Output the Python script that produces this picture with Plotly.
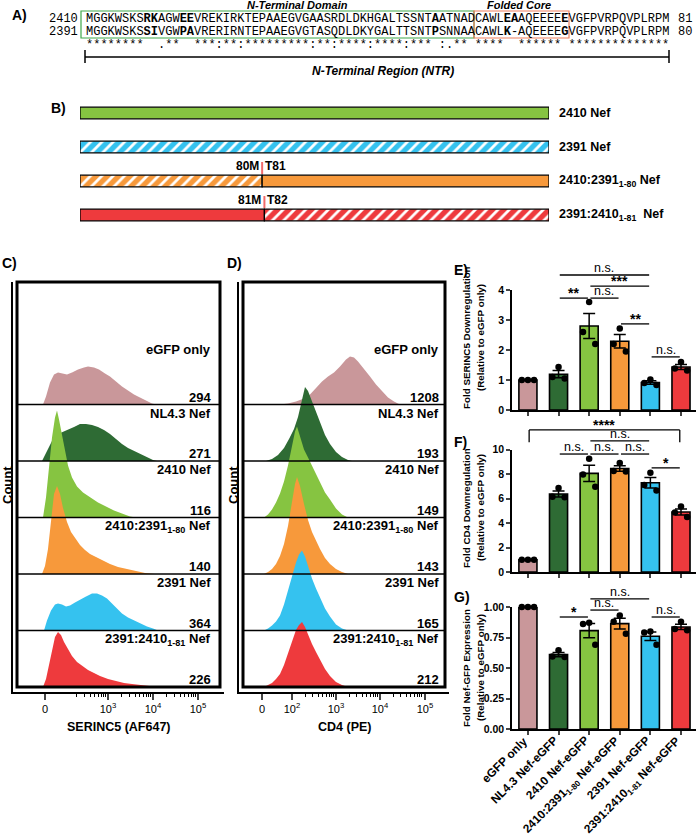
import numpy as np
import plotly.graph_objects as go

W, H = 696, 835
def PX(x): return x / W
def PY(y): return 1 - y / H
def to_paper(dom, rng, v): return dom[0] + (v - rng[0]) / (rng[1] - rng[0]) * (dom[1] - dom[0])

SANS = "Liberation Sans"
MONO = "Liberation Mono"

# ---------------- Panel A data ----------------
seq_names = ["2410", "2391"]
seq_lengths = ["81", "80"]
seq_2410 = ("MGGKWSKS<b>RK</b>AGW<b>EE</b>VREKIRKTEPAAEGVGAASRDLDKHGALTSSNT<b>A</b>"
            "ATNADCAWL<b>EA</b>AQEEEE<b>E</b>VGFPVRPQVPLRPM")
seq_2391 = ("MGGKWSKS<b>SI</b>VGW<b>PA</b>VRERIRNTEPAAEGVGTASQDLDKYGALTTSNT<b>P</b>"
            "SNNAACAWL<b>K</b>-AQEEEE<b>G</b>VGFPVRPQVPLRPM")
conservation = ("********  .**  ***:**:*********:**:****:****:*** :.** "
                "****  ****** **************")

# ---------------- Panel B data ----------------
construct_names = ["2410 Nef", "2391 Nef", "2410:2391<sub>1-80</sub> Nef", "2391:2410<sub>1-81</sub>  Nef"]
construct_colors = ["#86C441", "#35C2EF", "#F7993B", "#EE3A3D"]
segment_edges = [[0, 206], [0, 206], [0, 80, 206], [0, 81, 206]]
segment_hatched = [[False], [True], [True, False], [False, True]]
junction_left = [None, None, "80M", "81M"]
junction_right = [None, None, "T81", "T82"]

# ---------------- Panels C / D data (display channels, counts) ----------------
hist_labels = ["eGFP only", "NL4.3 Nef", "2410 Nef", "2410:2391<sub>1-80</sub> Nef",
               "2391 Nef", "2391:2410<sub>1-81</sub> Nef"]
hist_colors = ["#C9979A", "#2E6B34", "#86C441", "#F7993B", "#35C2EF", "#EE3A3D"]
serinc5_mfi = ["294", "271", "116", "140", "364", "226"]
cd4_mfi = ["1208", "193", "149", "143", "165", "212"]

serinc5_x = [
    [26,29,33,37,41,45,50,55,61,67,71,77,82,88,93,99,105,111,117,123,129,135,139],
    [25,28,32,36,41,46,51,57,63,69,75,81,87,93,99,105,111,117,123,129,136,140],
    [26,29,32,35,38,40,42,45,48,51,55,60,66,73,81,89,97,105,113,119],
    [25,28,31,34,37,40,43,46,50,54,59,63,68,73,79,85,93,101,109,118,128,138],
    [27,30,34,38,41,45,49,53,58,63,69,75,80,85,90,95,100,105,111,117,123,130,136,141],
    [26,29,32,35,38,41,44,47,51,55,60,65,71,77,83,91,99,107,115,123,133,141],
]
serinc5_counts = [
    [0,8,22,30,32,31,30,32,35,37,38,37,35,31,28,23,18,14,10,7,4,1,0],
    [0,6,14,22,27,29,31,34,37,37,36,34,31,27,22,17,13,10,7,4,1,0],
    [0,20,50,80,100,107,98,82,66,52,40,31,25,20,15,11,7,4,1,0],
    [0,8,25,55,80,88,80,66,52,42,34,29,24,20,17,14,10,7,5,3,1,0],
    [0,10,20,26,27,26,24,25,28,31,34,37,37,35,32,27,22,17,13,10,7,4,2,0],
    [0,8,22,38,50,55,52,45,38,31,25,21,17,14,11,8,6,4,3,2,1,0],
]
cd4_x = [
    [37,45,53,61,67,73,79,85,91,97,103,107,111,115,121,127,133,139,145,151,157],
    [23,29,35,41,46,51,55,59,62,65,69,73,77,82,87,93,99,105,109],
    [21,25,29,33,37,41,45,49,52,54,57,61,65,69,73,77,82,87,93,99,105],
    [21,25,29,33,37,41,45,49,52,54,57,61,65,69,73,77,82,87,93,99,105],
    [21,25,29,33,37,41,45,49,53,56,59,62,65,69,73,77,82,87,93,99,105],
    [21,25,29,33,37,41,45,49,53,56,59,62,65,69,73,77,82,87,93,99,105],
]
cd4_counts = [
    [0,1,3,6,10,17,23,28,32,38,45,48,47,43,36,28,20,13,7,3,0],
    [0,2,6,13,22,32,44,60,74,70,60,48,38,26,17,9,4,1,0],
    [0,3,8,15,24,36,52,72,86,91,82,68,60,52,43,35,25,18,9,3,0],
    [0,2,5,10,18,30,48,72,90,97,88,70,54,42,33,25,16,10,5,2,0],
    [0,2,5,9,15,26,40,55,68,76,80,74,64,52,42,33,22,14,6,2,0],
    [0,2,4,8,13,22,34,46,57,62,65,60,52,43,35,27,18,11,5,2,0],
]
serinc5_tickvals = [28, 91, 136, 181]
serinc5_ticktext = ["0", "10<sup>3</sup>", "10<sup>4</sup>", "10<sup>5</sup>"]
cd4_tickvals = [19, 49, 93, 137, 182]
cd4_ticktext = ["0", "10<sup>2</sup>", "10<sup>3</sup>", "10<sup>4</sup>", "10<sup>5</sup>"]

# ---------------- Panels E / F / G data ----------------
groups = ["eGFP only", "NL4.3 Nef-eGFP", "2410 Nef-eGFP", "2410:2391<sub>1-80</sub> Nef-eGFP",
          "2391 Nef-eGFP", "2391:2410<sub>1-81</sub> Nef-eGFP"]
serinc5_pts = [[1, 1, 1], [1.43, 1.10, 1.05], [3.60, 2.60, 2.20], [2.72, 2.20, 1.95],
               [1.02, 0.90, 0.83], [1.60, 1.38, 1.32]]
cd4_pts = [[1, 1, 1], [6.85, 6.15, 6.10], [9.25, 7.95, 6.95], [8.90, 8.25, 8.20],
           [8.10, 7.10, 6.65], [5.35, 4.85, 4.50]]
nefgfp_pts = [[1, 1, 1], [0.645, 0.595, 0.59], [0.87, 0.86, 0.69], [0.93, 0.88, 0.78],
              [0.80, 0.79, 0.69], [0.88, 0.82, 0.81]]
sig_serinc5 = [(1, 4, 4.5, "n.s."), (2, 4, 4.13, "***"), (1, 2, 3.73, "**"),
               (2, 3, 3.73, "n.s."), (3, 4, 2.87, "**"), (4, 5, 1.77, "n.s.")]
sig_cd4 = [(0, 5, 11.6, "****"), (2, 4, 10.7, "n.s."), (1, 2, 9.63, "n.s."),
           (2, 3, 9.63, "n.s."), (3, 4, 9.63, "n.s."), (4, 5, 8.5, "*")]
sig_nefgfp = [(2, 4, 1.066, "n.s."), (1, 2, 0.918, "*"), (2, 3, 0.975, "n.s."),
              (4, 5, 0.918, "n.s.")]

# =====================================================================
fig = go.Figure()
shapes, annos = [], []

def ann(x, y, text, size=12, bold=True, xanchor="center", yanchor="middle",
        xref="paper", yref="paper", family=SANS, angle=0, italic=False, color="black", **kw):
    annos.append(dict(x=x, y=y, xref=xref, yref=yref, text=text, showarrow=False,
                      xanchor=xanchor, yanchor=yanchor, textangle=angle,
                      font=dict(family=family, size=size, color=color,
                                weight="bold" if bold else "normal",
                                style="italic" if italic else "normal"), **kw))

def pline(x0, y0, x1, y1, color="black", width=1.5, xref="paper", yref="paper"):
    shapes.append(dict(type="line", x0=x0, y0=y0, x1=x1, y1=y1, xref=xref, yref=yref,
                       line=dict(color=color, width=width)))

# ---------------- Panel A ----------------
ann(PX(10), PY(15), "A)", size=14, xanchor="left")
ann(PX(297), PY(5), "N-Terminal Domain", size=11, italic=True)
ann(PX(519), PY(5), "Folded Core", size=11, italic=True)
for name, end, seq, ypix in zip(seq_names, seq_lengths, [seq_2410, seq_2391], [19, 32]):
    ann(PX(47), PY(ypix), name, size=12, bold=False, family=MONO, xanchor="left")
    ann(PX(84), PY(ypix), seq, size=12, bold=False, family=MONO, xanchor="left")
    ann(PX(676), PY(ypix), end, size=12, bold=False, family=MONO, xanchor="left")
ann(PX(84), PY(45), conservation.replace(" ", "\u00a0"), size=12, bold=False, family=MONO,
    xanchor="left")
shapes.append(dict(type="rect", xref="paper", yref="paper", x0=PX(81), x1=PX(474), y0=PY(38),
                   y1=PY(11), line=dict(color="#3FA84A", width=1.2)))
shapes.append(dict(type="rect", xref="paper", yref="paper", x0=PX(474), x1=PX(569), y0=PY(38),
                   y1=PY(11), line=dict(color="#EE7F5E", width=1.2)))
pline(PX(85), PY(57), PX(669), PY(57))
pline(PX(85), PY(50), PX(85), PY(63))
pline(PX(669), PY(50), PX(669), PY(63))
ann(PX(383), PY(71), "N-Terminal Region (NTR)", size=12, italic=True)

# ---------------- Panel B ----------------
ann(PX(49), PY(108), "B)", size=14, xanchor="left")
for i, (edges, hatch, col) in enumerate(zip(segment_edges, segment_hatched, construct_colors)):
    for k in range(len(edges) - 1):
        pat = dict(shape="/", fgcolor="white", bgcolor=col, fillmode="replace", size=8,
                   solidity=0.35) if hatch[k] else dict(shape="")
        fig.add_trace(go.Bar(x=[edges[k + 1] - edges[k]], base=[edges[k]], y=[i],
                             orientation="h", width=0.34, xaxis="x", yaxis="y",
                             showlegend=False, hoverinfo="skip",
                             marker=dict(color=col, line=dict(color="black", width=1.3),
                                         pattern=pat)))
    ann(edges[-1], i, construct_names[i], size=12.5, xanchor="left", xref="x", yref="y", xshift=8)
    if junction_left[i]:
        jx = edges[1]
        rowpx = 113 + 34 * i
        pline(jx, PY(rowpx - 19), jx, PY(rowpx - 7), color="#F26B6B", width=2, xref="x")
        ann(jx, PY(rowpx - 15), junction_left[i], size=12, xref="x", xanchor="right", xshift=-1)
        ann(jx, PY(rowpx - 15), junction_right[i], size=12, xref="x", xanchor="left", xshift=1)

# ---------------- Panels C / D ----------------
ROW = 56.5
hist_ydom = [PY(692), PY(282)]
hist_yrng = [-5, 405]
panel_cd = [
    ("x2", "y2", serinc5_x, serinc5_counts, serinc5_mfi, 17, 220, 213, "C)", 0, 13,
     "SERINC5 (AF647)"),
    ("x3", "y3", cd4_x, cd4_counts, cd4_mfi, 243, 445, 441, "D)", 225, 239, "CD4 (PE)"),
]
for xa, ya, xs, cs, mfis, bl, br, txr, plab, plx, axx, xtitle in panel_cd:
    for r in range(6):
        off = (5 - r) * ROW
        fig.add_trace(go.Scatter(x=xs[r], y=[off + c for c in cs[r]], mode="lines",
                                 fill="toself", fillcolor=hist_colors[r],
                                 line=dict(width=0, color=hist_colors[r]),
                                 xaxis=xa, yaxis=ya, showlegend=False, hoverinfo="skip"))
        lab_y = off + (55.5 if r == 0 else 48)
        ann(PX(txr), to_paper(hist_ydom, hist_yrng, lab_y), hist_labels[r], size=13,
            xanchor="right")
        ann(PX(txr), to_paper(hist_ydom, hist_yrng, off + 7.5), mfis[r], size=13,
            xanchor="right")
        if r > 0:
            yy = to_paper(hist_ydom, hist_yrng, (6 - r) * ROW)
            pline(PX(bl), yy, PX(br), yy, width=1.5)
    shapes.append(dict(type="rect", xref="paper", yref="paper", x0=PX(bl), x1=PX(br),
                       y0=PY(687), y1=PY(282), line=dict(color="black", width=3)))
    ann(PX(plx), PY(263), plab, size=14, xanchor="left")
    ann(PX(axx - 6), PY(485), "Count", size=13, angle=-90)
    ann(PX((bl + br) / 2), PY(727), xtitle, size=12.5)

# ---------------- Panels E / F / G ----------------
COL6 = ["#C9979A", "#2E6B34", "#86C441", "#F7993B", "#35C2EF", "#EE3A3D"]
JITTER = [0.0, -0.2, 0.2]
efg = [
    ("x4", "y4", serinc5_pts, sig_serinc5, [0, 4], [PY(410), PY(290)], "E)", 270,
     "Fold SERINC5 Downregulation", 338),
    ("x5", "y5", cd4_pts, sig_cd4, [0, 10], [PY(572), PY(449.5)], "F)", 442,
     "Fold CD4 Downregulation", 508),
    ("x6", "y6", nefgfp_pts, sig_nefgfp, [0, 1], [PY(729), PY(607)], "G)", 597,
     "Fold Nef-GFP Expression", 668),
]
for xa, ya, pts, sigs, yr, ydom, plab, laby, ytitle, ytitle_y in efg:
    means = [float(np.mean(p)) for p in pts]
    sems = [float(np.std(p, ddof=1) / np.sqrt(len(p))) for p in pts]
    fig.add_trace(go.Bar(x=list(range(6)), y=means, width=0.59, xaxis=xa, yaxis=ya,
                         marker=dict(color=COL6, line=dict(color="black", width=1.6)),
                         error_y=dict(type="data", array=sems, color="black", thickness=1.5,
                                      width=6),
                         showlegend=False, hoverinfo="skip"))
    px_, py_ = [], []
    for g, p in enumerate(pts):
        for j, v in enumerate(p):
            px_.append(g + JITTER[j])
            py_.append(v)
    fig.add_trace(go.Scatter(x=px_, y=py_, mode="markers", xaxis=xa, yaxis=ya,
                             marker=dict(color="black", size=6.5), showlegend=False,
                             hoverinfo="skip", cliponaxis=False))
    for a, b, h, t in sigs:
        yy = to_paper(ydom, yr, h)
        pline(a + 0.04, yy, b - 0.04, yy, width=1.3, xref=xa)
        if t == "****":
            y2 = to_paper(ydom, yr, h - 1.0)
            pline(a + 0.04, yy, a + 0.04, y2, width=1.3, xref=xa)
            pline(b - 0.04, yy, b - 0.04, y2, width=1.3, xref=xa)
        if t.startswith("n"):
            ann((a + b) / 2, yy - 2 / H, t, size=12.5, bold=False, xref=xa, yanchor="bottom")
        else:
            ann((a + b) / 2, yy + 5 / H, t, size=14, bold=True, xref=xa, yanchor="middle")
    ann(PX(452), PY(laby), plab, size=14, xanchor="left")
    ann(PX(466), PY(ytitle_y), ytitle, size=9.8, angle=-90)
    ann(PX(480), PY(ytitle_y), "(Relative to eGFP only)", size=9.8, angle=-90)

# rotated category labels under panel G
for g, name in enumerate(groups):
    ann(g + 0.165, PY(731), name, size=11.8, xref="x6", xanchor="right", yanchor="top",
        angle=-45)

# ---------------- Layout ----------------
tick_font = dict(family=SANS, size=10.5, color="black", weight="bold")
bar_x = dict(domain=[PX(512), PX(696)], range=[-0.52, 5.49], showline=True, linecolor="black",
             linewidth=1.5, ticks="outside", ticklen=4, tickwidth=1.5, tickvals=list(range(6)),
             showgrid=False, zeroline=False, fixedrange=True, automargin=False,
             showticklabels=False)
bar_y = dict(showline=True, linecolor="black", linewidth=1.5, ticks="outside", ticklen=4,
             tickwidth=1.5, showgrid=False, zeroline=False, tickfont=tick_font, fixedrange=True,
             automargin=False)

def minor_vals(p3, dec, lo_dec):
    vals = []
    for d in range(lo_dec, 5):
        for m in range(2, 10):
            vals.append(p3 + (d - 3 + np.log10(m)) * dec)
    return vals

hist_x_common = dict(showline=True, linecolor="black", linewidth=1.5, ticks="outside", ticklen=6,
                     tickwidth=1.5, showgrid=False, zeroline=False,
                     tickfont=dict(family=SANS, size=11, color="black"), fixedrange=True,
                     automargin=False)
hist_y_common = dict(domain=hist_ydom, range=hist_yrng, showline=True, linecolor="black",
                     linewidth=1.5, ticks="", showticklabels=False, showgrid=False,
                     zeroline=False, fixedrange=True, automargin=False)

fig.update_layout(
    template="none",
    width=W, height=H, autosize=False, margin=dict(l=0, r=0, t=0, b=0, pad=0),
    paper_bgcolor="white", plot_bgcolor="white", barmode="overlay", showlegend=False,
    font=dict(family=SANS, color="black"),
    xaxis=dict(domain=[PX(80), PX(549)], range=[0, 206], visible=False, anchor="y",
               fixedrange=True, automargin=False),
    yaxis=dict(domain=[PY(232), PY(96)], range=[3.5, -0.5], visible=False, anchor="x",
               fixedrange=True, automargin=False),
    xaxis2=dict(domain=[PX(13), PX(224)], range=[-4, 207], anchor="y2",
                tickvals=serinc5_tickvals, ticktext=serinc5_ticktext,
                minor=dict(tickvals=minor_vals(91, 45, 2), ticklen=3, tickwidth=1,
                           ticks="outside", tickcolor="black"),
                **hist_x_common),
    yaxis2=dict(anchor="x2", **hist_y_common),
    xaxis3=dict(domain=[PX(239), PX(449)], range=[-4, 206], anchor="y3",
                tickvals=cd4_tickvals, ticktext=cd4_ticktext,
                minor=dict(tickvals=minor_vals(93, 44, 2), ticklen=3, tickwidth=1,
                           ticks="outside", tickcolor="black"),
                **hist_x_common),
    yaxis3=dict(anchor="x3", **hist_y_common),
    xaxis4=dict(anchor="y4", **bar_x),
    yaxis4=dict(anchor="x4", domain=[PY(410), PY(290)], range=[0, 4], tickvals=[0, 1, 2, 3, 4],
                **bar_y),
    xaxis5=dict(anchor="y5", **bar_x),
    yaxis5=dict(anchor="x5", domain=[PY(572), PY(449.5)], range=[0, 10],
                tickvals=[0, 2, 4, 6, 8, 10], **bar_y),
    xaxis6=dict(anchor="y6", **bar_x),
    yaxis6=dict(anchor="x6", domain=[PY(729), PY(607)], range=[0, 1],
                tickvals=[0, 0.25, 0.5, 0.75, 1.0],
                ticktext=["0.00", "0.25", "0.50", "0.75", "1.00"], **bar_y),
    shapes=shapes, annotations=annos,
)

fig.write_html("out.html", config={"displayModeBar": False},
               post_script="document.body.style.margin='0';document.body.style.overflow='hidden';")
